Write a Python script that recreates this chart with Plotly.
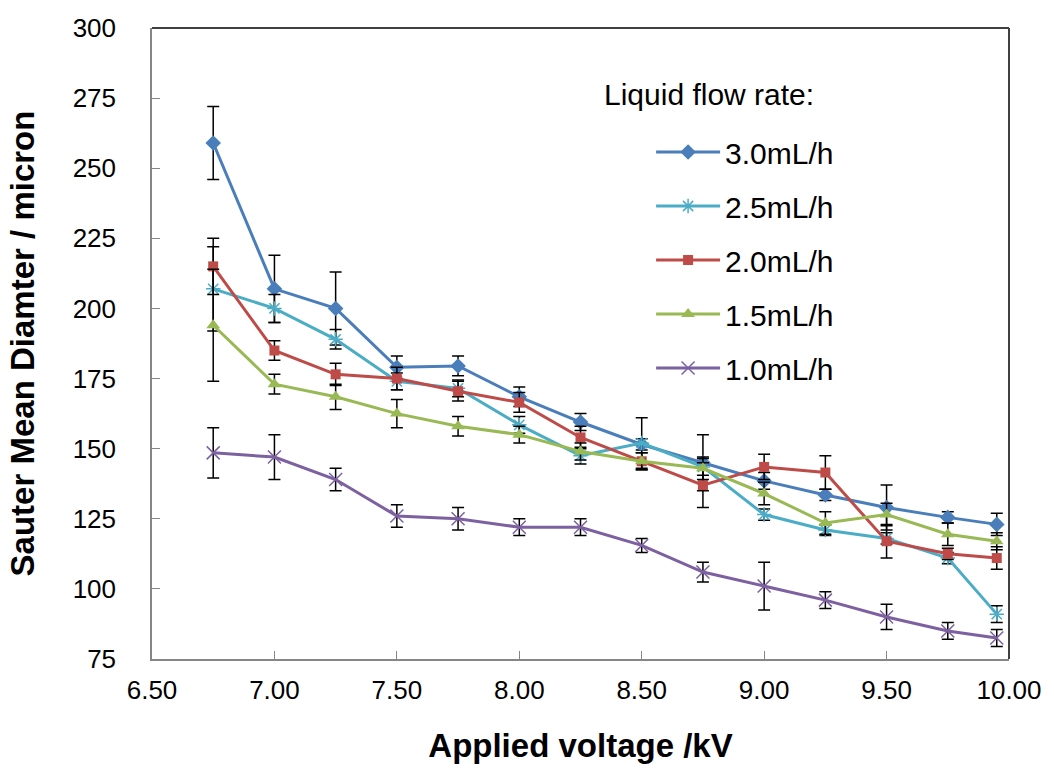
import plotly.graph_objects as go

voltage = [6.75, 7.00, 7.25, 7.50, 7.75, 8.00, 8.25, 8.50, 8.75, 9.00, 9.25, 9.50, 9.75, 9.95]

d30 = [259, 207, 200, 179, 179.5, 168.5, 159.5, 151.5, 145, 138.5, 133.5, 129, 125.5, 123]
e30 = [13, 12, 13, 4, 3.5, 3.5, 3, 2, 10, 3, 2, 8, 2, 4]
d25 = [207, 200, 189, 174, 171.5, 158.5, 147.5, 152, 143.5, 126.5, 121, 118, 111, 91]
e25 = [15, 5, 3.5, 3, 3, 3, 3, 9, 3, 2, 2, 2, 2, 3]
d20 = [215, 185, 176.5, 175, 170.5, 166.5, 154, 145.5, 137, 143.5, 141.5, 117, 112.5, 111]
e20 = [10, 3.5, 4, 4, 3.5, 3.5, 4, 3, 8, 4.5, 6, 6, 2, 4]
d15 = [194, 173, 168.5, 162.5, 158, 155, 149, 145.5, 143, 134, 123.5, 126.5, 119.5, 117]
e15 = [20, 3.5, 4.5, 5, 3.5, 3, 3, 3, 4, 4, 4, 4, 4, 3]
d10 = [148.5, 147, 139, 126, 125, 122, 122, 115.5, 106, 101, 96, 90, 85, 82.5]
e10 = [9, 8, 4, 4, 4, 3, 3, 2.5, 3.5, 8.5, 3, 4.5, 3, 3]

series_names = ["3.0mL/h", "2.5mL/h", "2.0mL/h", "1.5mL/h", "1.0mL/h"]
series_vals = [d30, d25, d20, d15, d10]
series_errs = [e30, e25, e20, e15, e10]
colors = ["#4A7EBB", "#4BACC6", "#BE4B48", "#98B954", "#7D60A0"]
symbols = ["diamond", "asterisk-open", "square", "triangle-up", "x-thin-open"]
msizes = [12, 12, 10, 12, 13]

x_ticks = [6.5, 7.0, 7.5, 8.0, 8.5, 9.0, 9.5, 10.0]
y_ticks = [75, 100, 125, 150, 175, 200, 225, 250, 275, 300]

FONT = "Liberation Sans, Arial, sans-serif"

L, R, T, B = 152, 40, 28, 113
W, H = 1054, 772
pw = W - L - R
ph = H - T - B

fig = go.Figure()
for i, (name, vals, errs) in enumerate(zip(series_names, series_vals, series_errs)):
    marker = dict(symbol=symbols[i], size=msizes[i], color=colors[i])
    if symbols[i].endswith("open"):
        marker["line"] = dict(color=colors[i] if i != 4 else "#A08BC2", width=1.5)
    fig.add_trace(go.Scatter(
        x=voltage, y=vals, name=name, mode="lines+markers",
        line=dict(color=colors[i], width=3),
        marker=marker,
        error_y=dict(type="data", array=errs, visible=True,
                     color="black", thickness=1.5, width=6),
        legendgroup=name,
    ))

fig.update_layout(
    width=W, height=H,
    margin=dict(l=L, r=R, t=T, b=B),
    paper_bgcolor="white", plot_bgcolor="white",
    font=dict(family=FONT, color="black"),
    showlegend=True,
    legend=dict(x=(654 - L) / pw, y=(H - B - 126) / ph, xanchor="left", yanchor="top",
                font=dict(size=30, family=FONT), tracegroupgap=12, itemwidth=64,
                bgcolor="rgba(0,0,0,0)"),
    annotations=[dict(text="Liquid flow rate:", x=(605 - L) / pw, y=(H - B - 95) / ph,
                      xref="paper", yref="paper", xanchor="left", yanchor="middle",
                      showarrow=False, font=dict(size=30, family=FONT))],
)

fig.update_xaxes(
    range=[6.5, 10.0], tickvals=x_ticks, ticktext=[f"{v:.2f}" for v in x_ticks],
    tickfont=dict(size=26), ticks="inside", ticklen=8, tickcolor="#868686",
    ticklabelstandoff=7,
    showline=True, linecolor="#868686", linewidth=1.5, showgrid=False, zeroline=False,
    title=dict(text="<b>Applied voltage /kV</b>", font=dict(size=33), standoff=30),
)
fig.update_yaxes(
    range=[75, 300], tickvals=y_ticks,
    tickfont=dict(size=26), ticks="inside", ticklen=8, tickcolor="#868686",
    ticklabelstandoff=29,
    showline=True, linecolor="#868686", linewidth=1.5, showgrid=False, zeroline=False,
    title=dict(text="<b>Sauter Mean Diamter / micron</b>", font=dict(size=33), standoff=28),
)
# top and right plot-area border
fig.add_shape(type="line", xref="paper", yref="paper", x0=0, x1=1, y0=1, y1=1,
              line=dict(color="#404040", width=2))
fig.add_shape(type="line", xref="paper", yref="paper", x0=1, x1=1, y0=0, y1=1,
              line=dict(color="#404040", width=2))

fig.write_html("out.html")
